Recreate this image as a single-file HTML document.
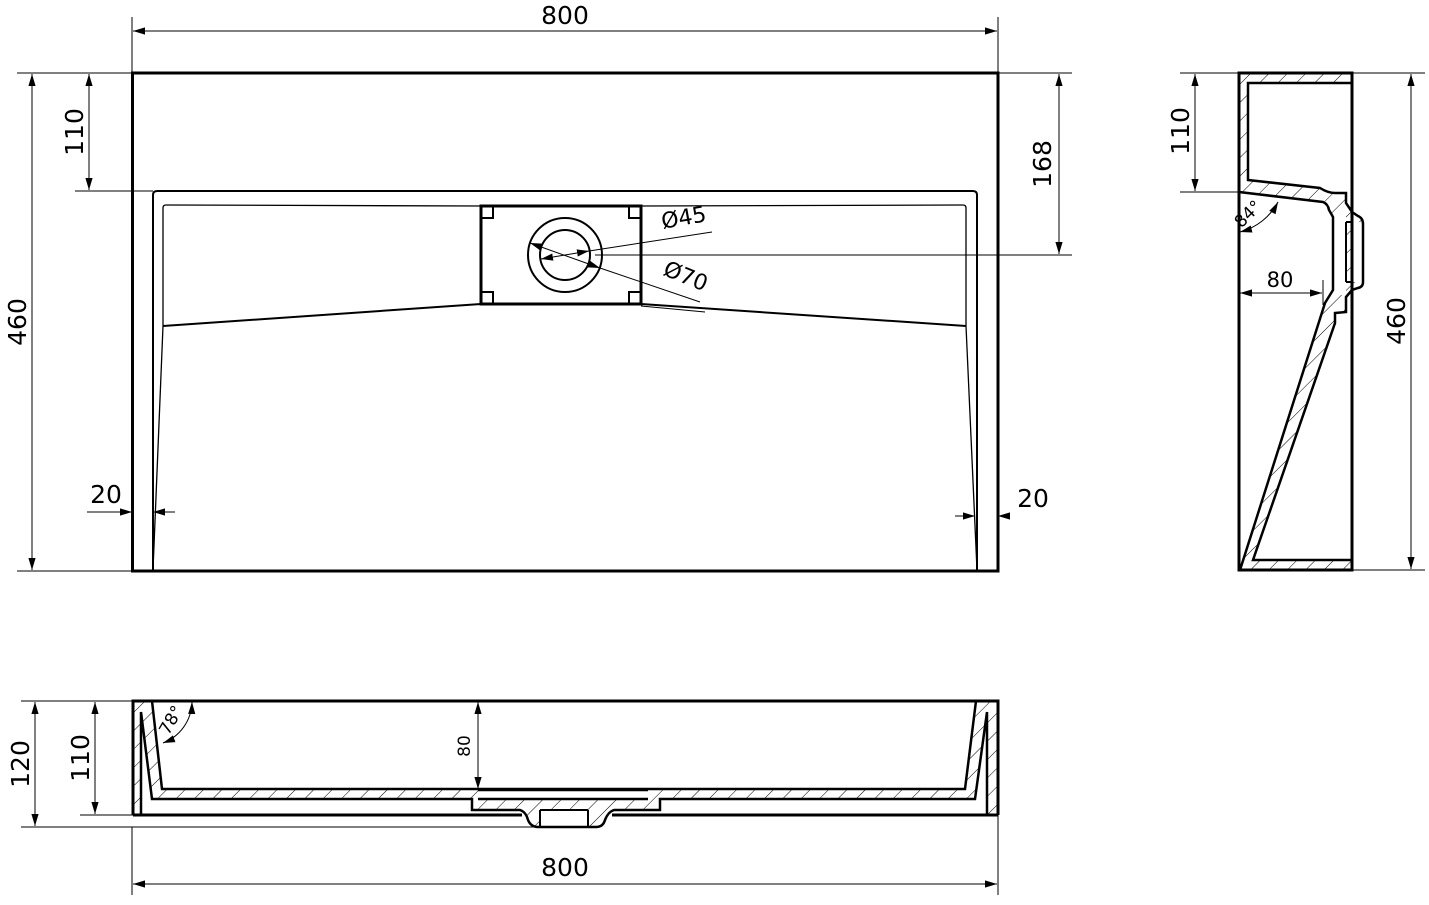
<!DOCTYPE html>
<html><head><meta charset="utf-8"><style>
html,body{margin:0;padding:0;background:#fff;}
svg{display:block;}
text{font-family:"DejaVu Sans","Liberation Sans",sans-serif;fill:#000;}
</style></head><body>
<svg width="1429" height="905" viewBox="0 0 1429 905" xmlns="http://www.w3.org/2000/svg">
<defs>
<marker id="a" viewBox="0 0 10 10" refX="10" refY="5" markerWidth="12" markerHeight="12" markerUnits="userSpaceOnUse" orient="auto-start-reverse">
<path d="M0,2 L10,5 L0,8 z" fill="#000"/></marker>
<pattern id="h" patternUnits="userSpaceOnUse" width="13" height="13" patternTransform="rotate(45)">
<rect width="13" height="13" fill="#fff"/><line x1="0" y1="0" x2="0" y2="13" stroke="#000" stroke-width="1"/></pattern>
</defs>
<g fill="none" stroke="#000">
<!-- TOP VIEW -->
<rect x="132.5" y="73" width="865.5" height="498" stroke-width="3"/>
<path d="M153,571 L153,195 Q153,191 157,191 L973,191 Q977,191 977,195 L977,571" stroke-width="2"/>
<path d="M153,570 L163,326 L163,208 Q163,205 166,205 L481,206" stroke-width="1.3"/>
<path d="M977,570 L966,326 L966,208 Q966,205 963,205 L641,206" stroke-width="1.3"/>
<path d="M163,326 L481,304" stroke-width="2"/>
<path d="M641,304 L966,326" stroke-width="2"/>
<path d="M641,306 L705,312" stroke-width="1"/>
<rect x="481" y="206" width="160" height="98" stroke-width="3"/>
<path d="M481,218 H493 V206 M629,206 V218 H641 M481,292 H493 V304 M629,304 V292 H641" stroke-width="2"/>
<circle cx="565" cy="255" r="37" stroke-width="2"/>
<circle cx="565" cy="255" r="25" stroke-width="2"/>
<line x1="595" y1="255" x2="1072" y2="255" stroke-width="1"/>
<line x1="541" y1="259" x2="589" y2="251" stroke-width="1" marker-start="url(#a)" marker-end="url(#a)"/>
<line x1="589" y1="251" x2="712" y2="232" stroke-width="1"/>
<line x1="530" y1="243" x2="600" y2="268" stroke-width="1" marker-start="url(#a)" marker-end="url(#a)"/>
<line x1="600" y1="268" x2="700" y2="302" stroke-width="1"/>
<!-- dims top view -->
<path d="M132,17 V73 M998,17 V73 M17,73 H132 M17,571 H132 M75,191 H153 M998,73 H1072" stroke-width="1"/>
<line x1="133" y1="31" x2="997" y2="31" stroke-width="1" marker-start="url(#a)" marker-end="url(#a)"/>
<line x1="32" y1="74" x2="32" y2="570" stroke-width="1" marker-start="url(#a)" marker-end="url(#a)"/>
<line x1="89" y1="74" x2="89" y2="190" stroke-width="1" marker-start="url(#a)" marker-end="url(#a)"/>
<line x1="1059" y1="74" x2="1059" y2="254" stroke-width="1" marker-start="url(#a)" marker-end="url(#a)"/>
<line x1="87" y1="512" x2="132" y2="512" stroke-width="1" marker-end="url(#a)"/>
<line x1="175" y1="512" x2="153" y2="512" stroke-width="1" marker-end="url(#a)"/>
<line x1="955" y1="516" x2="975" y2="516" stroke-width="1" marker-end="url(#a)"/>
<line x1="1010" y1="516" x2="998" y2="516" stroke-width="1" marker-end="url(#a)"/>

<!-- SIDE VIEW -->
<path d="M1239,73 H1352 V83 H1248 V180 L1239,180 Z" fill="url(#h)" stroke="none"/>
<path d="M1239,180 L1248,180 L1320,188 Q1328,193 1335,193 L1346,193 L1346,203 L1352,212 L1358,216 Q1363,218 1363,224 L1363,282 Q1363,287 1358,288 L1352,290 L1346,297 L1346,312 L1335,313 L1335,323 L1253,560 L1352,560 L1352,570 L1239,570 Z" fill="url(#h)" stroke="none"/>
<path d="M1239,192 L1323,202 Q1328,204 1329,210 L1333,217 L1333,290 L1325,303 L1239,572 Z" fill="#fff" stroke="none"/>
<path d="M1333,217 H1346 V295 H1333 Z" fill="#fff" stroke="none"/>
<path d="M1352,222 H1363 V282 H1352 Z" fill="#fff" stroke="none"/>
<path d="M1239,73 H1352 V570 H1239 Z" stroke-width="3"/>
<path d="M1352,83 H1248 V180 L1320,188 Q1328,193 1335,193 L1346,193 L1346,203 L1352,212 L1358,216 Q1363,218 1363,224 L1363,282 Q1363,287 1358,288 L1352,290 L1346,297 L1346,312 L1335,313 L1335,323 L1253,560 L1352,560" stroke-width="2.5"/>
<path d="M1239,192 L1323,202 Q1328,204 1329,210 L1333,217 V290 L1325,303 L1240,570" stroke-width="2.5"/>
<path d="M1352,222 H1346 M1352,282 H1346 M1346,222 V282" stroke-width="2"/>
<path d="M1352,73 H1425 M1352,570 H1425 M1180,73 H1239 M1180,192 H1239" stroke-width="1"/>
<line x1="1411" y1="74" x2="1411" y2="569" stroke-width="1" marker-start="url(#a)" marker-end="url(#a)"/>
<line x1="1195" y1="74" x2="1195" y2="191" stroke-width="1" marker-start="url(#a)" marker-end="url(#a)"/>
<line x1="1240" y1="293" x2="1322" y2="293" stroke-width="1" marker-start="url(#a)" marker-end="url(#a)"/>
<line x1="1323" y1="280" x2="1323" y2="305" stroke-width="1"/>
<path d="M1240,232 A60,60 0 0 0 1278,202" stroke-width="1" marker-start="url(#a)" marker-end="url(#a)"/>

<!-- FRONT VIEW -->
<rect x="133" y="701" width="8" height="114" fill="url(#h)" stroke="none"/>
<rect x="987" y="701" width="11" height="114" fill="url(#h)" stroke="none"/>
<path d="M141,712 L152,799 L472,799 L472,810 L520,810 Q526,812 528,820 Q531,827 538,827 L596,827 Q603,827 605,820 Q608,812 614,810 L660,810 L660,799 L975,799 L987,712 L987,701 L976,701 L965,789 L162,789 L152,701 L141,701 Z" fill="url(#h)" stroke="none"/>
<rect x="540" y="810" width="48" height="17" fill="#fff" stroke="none"/>
<rect x="478" y="790" width="170" height="9" fill="#fff" stroke="none"/>
<path d="M133,815 V701 H998 V815" stroke-width="3"/>
<path d="M141,815 V712 L152,799 L472,799 L472,810 L520,810 Q526,812 528,820 Q531,827 538,827 L596,827 Q603,827 605,820 Q608,812 614,810 L660,810 L660,799 L975,799 L987,712 V815" stroke-width="2.5"/>
<path d="M152,701 L162,789 L965,789 L976,701" stroke-width="2.5"/>
<path d="M133,815 H522 M612,815 H998" stroke-width="3"/>
<path d="M540,810 V827 M588,810 V827 M540,810 H588" stroke-width="2"/>
<path d="M478,790 H648 M478,799 H648" stroke-width="2.5"/>
<path d="M21,701 H133 M80,815 H133 M21,827 H540 M132,827 V895 M998,815 V895" stroke-width="1"/>
<line x1="35" y1="702" x2="35" y2="826" stroke-width="1" marker-start="url(#a)" marker-end="url(#a)"/>
<line x1="95" y1="702" x2="95" y2="814" stroke-width="1" marker-start="url(#a)" marker-end="url(#a)"/>
<line x1="478" y1="702" x2="478" y2="789" stroke-width="1" marker-start="url(#a)" marker-end="url(#a)"/>
<line x1="133" y1="884" x2="997" y2="884" stroke-width="1" marker-start="url(#a)" marker-end="url(#a)"/>
<path d="M163,743 A45,45 0 0 0 192,702" stroke-width="1" marker-start="url(#a)" marker-end="url(#a)"/>
</g>
<g font-size="25">
<text x="565" y="24" text-anchor="middle">800</text>
<text x="565" y="876" text-anchor="middle">800</text>
<text x="106" y="503" text-anchor="middle">20</text>
<text x="1033" y="507" text-anchor="middle">20</text>
<text x="1280" y="287" text-anchor="middle" font-size="21">80</text>
<text transform="translate(26,322) rotate(-90)" text-anchor="middle">460</text>
<text transform="translate(83,132) rotate(-90)" text-anchor="middle">110</text>
<text transform="translate(1051,164) rotate(-90)" text-anchor="middle">168</text>
<text transform="translate(1189,131) rotate(-90)" text-anchor="middle">110</text>
<text transform="translate(1405,321) rotate(-90)" text-anchor="middle">460</text>
<text transform="translate(29,764) rotate(-90)" text-anchor="middle">120</text>
<text transform="translate(89,758) rotate(-90)" text-anchor="middle">110</text>
<text transform="translate(470,746) rotate(-90)" text-anchor="middle" font-size="17">80</text>
<text transform="translate(685,225) rotate(-10)" text-anchor="middle" font-size="22">Ø45</text>
<text transform="translate(683,283) rotate(22)" text-anchor="middle" font-size="22">Ø70</text>
<text transform="translate(1252,218) rotate(-45)" text-anchor="middle" font-size="17">84°</text>
<text transform="translate(176,723) rotate(-60)" text-anchor="middle" font-size="17">78°</text>
</g>
</svg>
</body></html>
